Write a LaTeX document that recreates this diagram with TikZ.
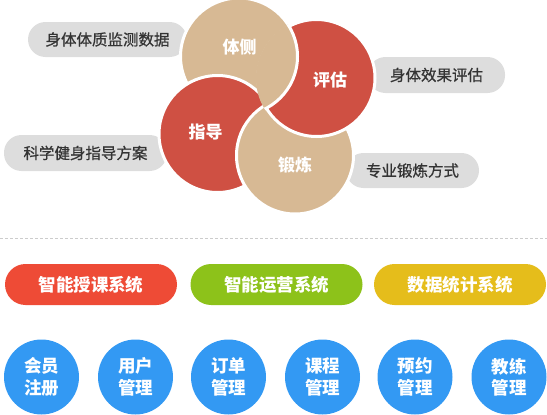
\documentclass[tikz,border=0pt]{standalone}
\usepackage{fontspec}
\setmainfont{Noto Sans CJK SC}
\newfontfamily\graytextfont[FakeBold=0.8]{Noto Sans CJK SC}
\definecolor{tanc}{RGB}{215,185,148}
\definecolor{redc}{RGB}{207,80,67}
\definecolor{pillgray}{RGB}{221,221,221}
\definecolor{txtgray}{RGB}{51,51,51}
\definecolor{sysred}{RGB}{238,75,54}
\definecolor{sysgreen}{RGB}{141,194,26}
\definecolor{sysyellow}{RGB}{229,189,27}
\definecolor{bluec}{RGB}{51,153,243}
\definecolor{dashgray}{RGB}{204,204,204}
\begin{document}
\begin{tikzpicture}[x=1pt,y=-1pt,
  graypill/.style={rectangle, fill=pillgray, rounded corners=17.5pt, inner sep=0pt,
    text=txtgray, font=\graytextfont\fontsize{15.5}{18}\selectfont},
  petal/.style={circle, draw=white, line width=3pt, minimum size=117pt, inner sep=0pt},
  petaltext/.style={text=white, font=\fontsize{17}{20}\selectfont\bfseries, inner sep=0pt},
  syspill/.style={rectangle, rounded corners=20.5pt, minimum width=172pt, minimum height=41pt,
    inner sep=0pt, text=white, font=\fontsize{17.5}{20}\selectfont\bfseries},
  modcircle/.style={circle, fill=bluec, minimum size=75pt, inner sep=0pt, text=white,
    align=center, font=\fontsize{17.5}{21.5}\selectfont\bfseries},
  dashline/.style={draw=dashgray, line width=1pt, dash pattern=on 3pt off 2pt}]
\useasboundingbox (0,0) rectangle (547,415);
% gray pills
\node[graypill, minimum width=159pt, minimum height=35pt] (p1) at (107.5,39.5) {身体体质监测数据};
\node[graypill, minimum width=163pt, minimum height=36pt] (p2) at (85.5,153) {科学健身指导方案};
\node[graypill, minimum width=137pt, minimum height=36pt] (p3) at (436.5,75) {身体效果评估};
\node[graypill, minimum width=133pt, minimum height=35pt] (p4) at (412.5,170.5) {专业锻炼方式};
% pinwheel circles
\node[petal, fill=tanc] (tice) at (239,56.5) {};
\node[petal, fill=redc] (zhidao) at (217.5,134) {};
\node[petal, fill=tanc] (duanlian) at (295,155.5) {};
\node[petal, fill=redc] (pinggu) at (316.5,78) {};
\begin{scope}
  \clip (pinggu.center) circle (60.5);
  \node[petal, fill=tanc] (tice2) at (tice.center) {};
\end{scope}
\node[petaltext] (t1) at (239.5,47) {体侧};
\node[petaltext] (t2) at (330,80) {评估};
\node[petaltext] (t3) at (205.5,132) {指导};
\node[petaltext] (t4) at (295,165) {锻炼};
% dashed separator
\coordinate (dl) at (0,238);
\coordinate (dr) at (547,238);
\draw[dashline] (dl) -- (dr);
% system pills
\node[syspill, fill=sysred] (s1) at (91,284.5) {智能授课系统};
\node[syspill, fill=sysgreen] (s2) at (276.5,284.5) {智能运营系统};
\node[syspill, fill=sysyellow] (s3) at (460,284.5) {数据统计系统};
% module circles
\node[modcircle] (m1) at (41.5,377) {会员\\注册};
\node[modcircle] (m2) at (135.5,377) {用户\\管理};
\node[modcircle] (m3) at (228.5,377) {订单\\管理};
\node[modcircle] (m4) at (322.5,377) {课程\\管理};
\node[modcircle] (m5) at (415,377) {预约\\管理};
\node[modcircle] (m6) at (509,377) {教练\\管理};
\end{tikzpicture}
\end{document}
